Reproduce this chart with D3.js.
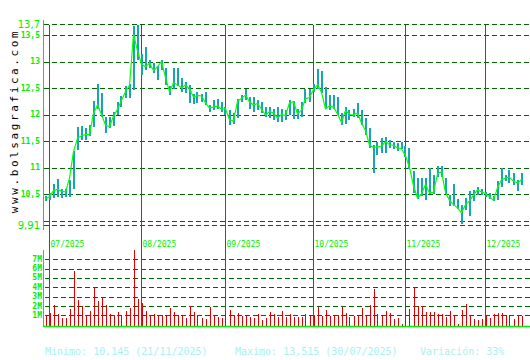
<!DOCTYPE html>
<html>
<head>
<meta charset="utf-8">
<script src="https://cdn.jsdelivr.net/npm/d3@7"></script>
<style>
  body { margin: 0; background: #fff; }
  svg { display: block; }
</style>
</head>
<body>
<svg id="chart" width="530" height="360"></svg>
<script>
// daily closes, 30/06/2025 .. 12/12/2025
const closes = [
  10.41, 10.45, 10.56, 10.59, 10.55, 10.54, 10.8, 11.3, 11.55, 11.6,
  11.62, 11.62, 12.02, 12.18, 12.0, 11.8, 11.77, 11.97, 12.1, 12.27,
  12.43, 12.55, 13.515, 13.2, 12.95, 12.9, 12.97, 12.83, 12.9, 13.0,
  12.7, 12.43, 12.6, 12.56, 12.5, 12.56, 12.48, 12.33, 12.36, 12.35,
  12.22, 12.12, 12.14, 12.16, 12.1, 12.11, 11.9, 11.88, 12.25, 12.3,
  12.37, 12.24, 12.18, 12.21, 12.1, 11.99, 12.06, 12.03, 11.93, 12.0,
  11.98, 12.22, 12.24, 12.01, 12.08, 12.3, 12.32, 12.47, 12.56, 12.42,
  12.11, 12.16, 12.14, 12.01, 11.85, 12.08, 12.0, 11.99, 12.03, 11.84,
  11.7, 11.42, 11.38, 11.39, 11.4, 11.5, 11.43, 11.42, 11.37, 11.35,
  11.22, 11.0, 10.66, 10.42, 10.5, 10.68, 10.52, 10.53, 10.88, 10.92,
  10.53, 10.38, 10.3, 10.24, 10.145, 10.3, 10.37, 10.48, 10.58, 10.54,
  10.51, 10.45, 10.38, 10.62, 10.77, 10.8, 10.82, 10.74, 10.71, 10.77
];
const highs = [
  10.46, 10.52, 10.69, 10.78, 10.6, 10.6, 10.76, 11.32, 11.77, 11.78,
  11.74, 11.8, 12.26, 12.58, 12.4, 11.96, 11.96, 12.05, 12.24, 12.35,
  12.53, 12.58, 13.67, 13.69, 13.15, 13.28, 13.03, 12.97, 12.92, 13.03,
  12.87, 12.53, 12.87, 12.87, 12.68, 12.62, 12.56, 12.39, 12.43, 12.39,
  12.43, 12.18, 12.27, 12.29, 12.24, 12.14, 12.08, 12.02, 12.3, 12.36,
  12.49, 12.33, 12.33, 12.27, 12.24, 12.14, 12.14, 12.11, 12.14, 12.11,
  12.08, 12.27, 12.26, 12.11, 12.24, 12.49, 12.49, 12.58, 12.86, 12.83,
  12.52, 12.36, 12.36, 12.33, 12.02, 12.14, 12.08, 12.11, 12.21, 12.08,
  11.94, 11.74, 11.43, 11.49, 11.55, 11.58, 11.52, 11.49, 11.46, 11.49,
  11.4, 11.36, 10.93, 10.8, 10.8, 10.8, 10.99, 10.86, 11.02, 11.02,
  10.8, 10.49, 10.68, 10.4, 10.3, 10.43, 10.55, 10.58, 10.64, 10.6,
  10.54, 10.52, 10.46, 10.74, 11.0, 10.86, 10.96, 10.89, 10.77, 10.89
];
const lows = [
  10.36, 10.38, 10.42, 10.45, 10.43, 10.45, 10.45, 10.6, 11.33, 11.52,
  11.52, 11.6, 11.77, 12.1, 11.96, 11.66, 11.74, 11.78, 11.99, 12.15,
  12.32, 12.31, 12.46, 13.03, 12.75, 12.84, 12.87, 12.78, 12.65, 12.84,
  12.56, 12.37, 12.49, 12.53, 12.43, 12.4, 12.22, 12.19, 12.21, 12.24,
  12.18, 12.04, 12.08, 12.1, 12.05, 11.99, 11.8, 11.83, 11.93, 12.24,
  12.27, 12.11, 12.05, 12.08, 12.03, 11.96, 11.94, 11.89, 11.86, 11.86,
  11.9, 11.99, 11.92, 11.92, 11.95, 12.21, 12.24, 12.43, 12.49, 12.4,
  12.11, 12.08, 12.1, 12.0, 11.8, 11.83, 11.9, 11.95, 11.93, 11.8,
  11.61, 11.36, 10.89, 11.24, 11.27, 11.27, 11.36, 11.34, 11.32, 11.34,
  11.2, 10.98, 10.52, 10.4, 10.46, 10.39, 10.5, 10.5, 10.83, 10.83,
  10.5, 10.27, 10.28, 10.22, 9.94, 10.2, 10.08, 10.36, 10.49, 10.49,
  10.44, 10.4, 10.36, 10.39, 10.64, 10.75, 10.71, 10.67, 10.56, 10.67
];
// volume, millions of shares
const volumes = [
  1.04, 1.3, 2.1, 1.1, 0.75, 0.75, 1.68, 5.8, 2.65, 2.0,
  1.04, 1.47, 4.0, 2.57, 2.9, 2.1, 1.1, 1.04, 1.4, 0.93,
  1.5, 1.82, 8.0, 2.8, 2.3, 1.5, 1.04, 1.1, 1.04, 1.04,
  1.04, 1.82, 1.4, 1.04, 0.93, 0.75, 2.0, 1.4, 0.96, 0.75,
  0.64, 1.9, 0.96, 0.86, 0.75, 1.2, 1.57, 1.04, 1.25, 0.93,
  0.96, 0.79, 0.75, 1.14, 0.5, 0.75, 1.36, 1.14, 0.86, 1.47,
  0.86, 1.14, 0.86, 0.86, 0.86, 1.14, 1.04, 1.0, 1.93, 0.93,
  1.57, 0.93, 0.93, 1.04, 1.93, 1.29, 0.79, 0.93, 0.93, 1.82,
  0.93, 2.1, 3.83, 1.14, 0.93, 1.5, 1.2, 0.6, 0.68, 0.05,
  2.0, 1.68, 4.0, 2.0, 2.0, 1.36, 1.36, 1.36, 1.14, 1.14,
  0.79, 1.5, 0.93, 0.05, 1.57, 2.2, 1.0, 0.6, 0.5, 0.6,
  1.0, 0.68, 1.14, 1.29, 1.2, 1.04, 0.93, 0.6, 1.04, 0.93
];

const monthStarts = [1, 24, 45, 67, 90, 110];
const monthLabels = ["07/2025", "08/2025", "09/2025", "10/2025", "11/2025", "12/2025"];
const priceGrid = [13.7, 13.5, 13, 12.5, 12, 11.5, 11, 10.5, 10, 9.91];
const priceTicks = [13.7, 13.5, 13, 12.5, 12, 11.5, 11, 10.5, 9.91];
const volTicks = [1, 2, 3, 4, 5, 6, 7];
const summaryTexts = ["Minimo: 10,145 (21/11/2025)", "Maximo: 13,515 (30/07/2025)", "Variación: 33%"];

const lime = "#00ee00";
const gridGreen = "#006400";
const monthGreen = "#008800";

const svg = d3.select("#chart");

const x = d3.scaleLinear().domain([0, closes.length - 1]).range([45.5, 521.5]);
const y = d3.scaleLinear().domain([9.91, 13.7]).range([225.3, 24.4]);
const yVol = d3.scaleLinear().domain([0, 7]).range([324.7, 259.3]);

const crisp = v => Math.round(v) + 0.5;
const fmt = v => String(v).replace(".", ",");

// dashed grid, price panel
svg.append("g")
  .selectAll("line")
  .data(priceGrid)
  .join("line")
  .attr("x1", 44).attr("x2", 530)
  .attr("y1", d => crisp(y(d))).attr("y2", d => crisp(y(d)))
  .attr("stroke", gridGreen)
  .attr("stroke-dasharray", "5,3")
  .attr("shape-rendering", "crispEdges");

// dashed grid, volume panel
svg.append("g")
  .selectAll("line")
  .data(volTicks)
  .join("line")
  .attr("x1", 45).attr("x2", 530)
  .attr("y1", d => crisp(yVol(d))).attr("y2", d => crisp(yVol(d)))
  .attr("stroke", gridGreen)
  .attr("stroke-dasharray", "5,3")
  .attr("shape-rendering", "crispEdges");

// month separators
svg.append("g")
  .selectAll("line")
  .data(monthStarts)
  .join("line")
  .attr("x1", d => crisp(x(d) - 0.5)).attr("x2", d => crisp(x(d) - 0.5))
  .attr("y1", 25).attr("y2", 326)
  .attr("stroke", monthGreen)
  .attr("shape-rendering", "crispEdges");

svg.append("g")
  .selectAll("text")
  .data(monthStarts)
  .join("text")
  .attr("x", d => x(d) + 1)
  .attr("y", 247)
  .attr("fill", lime)
  .style("font", "8px 'DejaVu Sans Mono', monospace")
  .text((d, i) => monthLabels[i]);

// volume bars
svg.append("g")
  .selectAll("line")
  .data(volumes)
  .join("line")
  .attr("x1", (d, i) => crisp(x(i))).attr("x2", (d, i) => crisp(x(i)))
  .attr("y1", 326)
  .attr("y2", d => Math.round(yVol(d)))
  .attr("stroke", "#e00000")
  .attr("shape-rendering", "crispEdges");

// high-low bars
svg.append("g")
  .selectAll("line")
  .data(highs)
  .join("line")
  .attr("x1", (d, i) => Math.round(x(i))).attr("x2", (d, i) => Math.round(x(i)))
  .attr("y1", d => Math.round(y(d)))
  .attr("y2", (d, i) => Math.round(y(lows[i])))
  .attr("stroke", "#18a4b4")
  .attr("stroke-width", 2)
  .attr("shape-rendering", "crispEdges");

// close line
svg.append("path")
  .datum(closes)
  .attr("fill", "none")
  .attr("stroke", "#00ff00")
  .attr("stroke-width", 1.2)
  .attr("d", d3.line().x((d, i) => x(i)).y(d => y(d)));

// axes lines
svg.append("line")
  .attr("x1", 43.5).attr("x2", 43.5).attr("y1", 20).attr("y2", 230)
  .attr("stroke", lime).attr("shape-rendering", "crispEdges");
svg.append("line")
  .attr("x1", 43.5).attr("x2", 43.5).attr("y1", 250).attr("y2", 327)
  .attr("stroke", lime).attr("shape-rendering", "crispEdges");
svg.append("line")
  .attr("x1", 43).attr("x2", 530).attr("y1", 326.5).attr("y2", 326.5)
  .attr("stroke", lime).attr("stroke-width", 1.5);

// price tick labels
svg.append("g")
  .selectAll("text")
  .data(priceTicks)
  .join("text")
  .attr("x", 40)
  .attr("y", d => y(d))
  .attr("text-anchor", "end")
  .attr("dominant-baseline", "central")
  .attr("fill", lime)
  .style("font", (d, i) => (i === 0 || i === priceTicks.length - 1)
    ? "10px 'DejaVu Sans', sans-serif"
    : "bold 8px 'DejaVu Sans Mono', monospace")
  .text(fmt);

// volume tick labels
svg.append("g")
  .selectAll("text")
  .data(volTicks)
  .join("text")
  .attr("x", 42)
  .attr("y", d => yVol(d))
  .attr("text-anchor", "end")
  .attr("dominant-baseline", "central")
  .attr("fill", lime)
  .style("font", "bold 8px 'DejaVu Sans Mono', monospace")
  .text(d => d + "M");

// watermark
svg.append("text")
  .attr("transform", "translate(17.5,121) rotate(-90)")
  .attr("text-anchor", "middle")
  .attr("fill", "#000")
  .style("font", "11px 'DejaVu Sans Mono', monospace")
  .style("letter-spacing", "2.6px")
  .text("www.bolsagrafica.com");

// summary line
const summaryX = [45, 235, 420];
svg.append("g")
  .selectAll("text")
  .data(summaryTexts)
  .join("text")
  .attr("x", (d, i) => summaryX[i])
  .attr("y", 355)
  .attr("fill", "#a6f2f2")
  .style("font", "10px 'DejaVu Sans Mono', monospace")
  .text(d => d);
</script>
</body>
</html>
